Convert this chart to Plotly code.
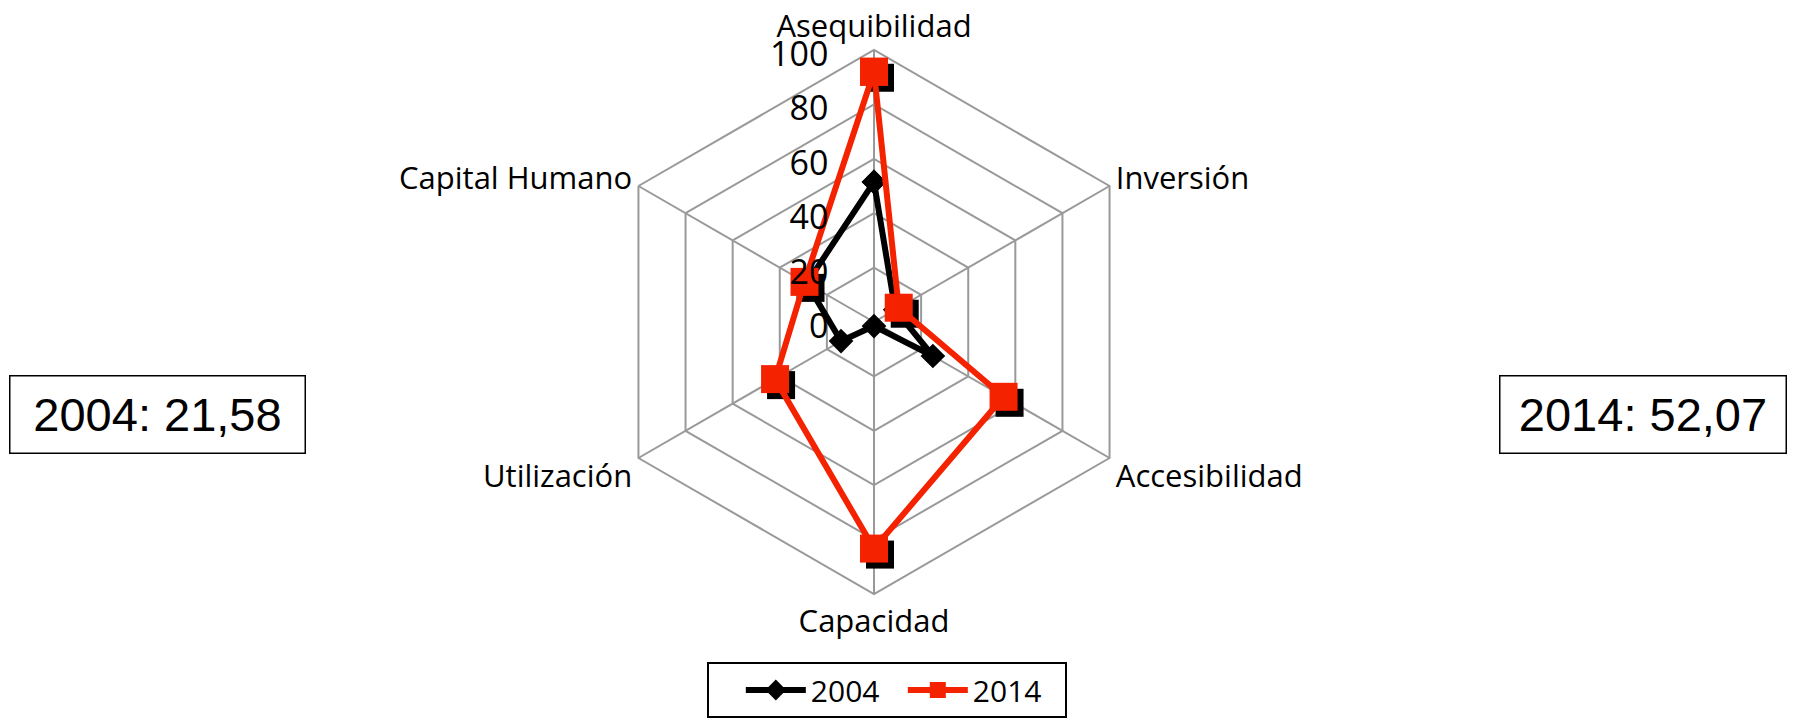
import plotly.graph_objects as go

# ejes del radar (sentido horario desde arriba)
categorias = ['Asequibilidad', 'Inversión', 'Accesibilidad', 'Capacidad', 'Utilización', 'Capital Humano']
valores_2004 = [51.5, 9, 25, 1.5, 14, 28.5]
valores_2014 = [92, 10.5, 55, 83.3, 42, 29.5]
ticks_radiales = [0, 20, 40, 60, 80, 100]
indices = ['2004: 21,58', '2014: 52,07']

W, H = 1797, 726
OFF = 8  # margen por defecto del <body>
cx, cy, r = 874 - OFF, 322 - OFF, 272
fuente = 'Open Sans'
gris = '#999999'
rojo = '#f52200'
nb = '\u00a0'

def cerrar(v):
    return list(v) + [v[0]]

cats = cerrar(categorias)

def dominio(dx=0, dy=0):
    x0 = (cx - r + dx) / W
    x1 = (cx + r + dx) / W
    yb = H - cy - dy
    return dict(x=[x0, x1], y=[(yb - r) / H, (yb + r) / H])

fig = go.Figure()

fig.add_trace(go.Scatterpolar(
    r=cerrar(valores_2004), theta=cats, name='2004', subplot='polar',
    mode='lines+markers',
    line=dict(color='black', width=6),
    marker=dict(symbol='diamond', size=19, color='black'),
))
# sombra de los marcadores de 2014
fig.add_trace(go.Scatterpolar(
    r=valores_2014, theta=categorias, subplot='polar2', mode='markers',
    marker=dict(symbol='square', size=28, color='black'),
    showlegend=False, hoverinfo='skip',
))
fig.add_trace(go.Scatterpolar(
    r=cerrar(valores_2014), theta=cats, name='2014', subplot='polar3',
    mode='lines+markers',
    line=dict(color=rojo, width=6),
    marker=dict(symbol='square', size=28, color=rojo),
))
# subplot solo para las etiquetas del eje radial (desplazadas a la izquierda)
fig.add_trace(go.Scatterpolar(
    r=[0], theta=categorias[:1], subplot='polar4', mode='markers',
    marker=dict(opacity=0), showlegend=False, hoverinfo='skip',
))

ang_oculto = dict(visible=False, rotation=90, direction='clockwise',
                  categoryorder='array', categoryarray=categorias)
rad_oculto = dict(visible=False, range=[0, 100])

fig.update_layout(
    width=W, height=H,
    margin=dict(l=0, r=0, t=0, b=0),
    paper_bgcolor='white',
    font=dict(family=fuente, color='black'),
    polar=dict(
        domain=dominio(),
        gridshape='linear',
        bgcolor='white',
        radialaxis=dict(range=[0, 100], tickvals=ticks_radiales, showticklabels=False,
                        angle=90, showline=False, ticks='',
                        gridcolor=gris, gridwidth=2),
        angularaxis=dict(rotation=90, direction='clockwise', categoryorder='array',
                         categoryarray=categorias, linecolor=gris, linewidth=2,
                         gridcolor=gris, gridwidth=2, ticks='',
                         tickfont=dict(size=31)),
    ),
    polar2=dict(domain=dominio(6, 6), gridshape='linear', bgcolor='rgba(0,0,0,0)',
                radialaxis=rad_oculto, angularaxis=ang_oculto),
    polar3=dict(domain=dominio(), gridshape='linear', bgcolor='rgba(0,0,0,0)',
                radialaxis=rad_oculto, angularaxis=ang_oculto),
    polar4=dict(domain=dominio(-40, 5), gridshape='linear', bgcolor='rgba(0,0,0,0)',
                radialaxis=dict(range=[0, 100], tickvals=ticks_radiales, angle=90,
                                tickangle=90, side='counterclockwise', showline=False,
                                showgrid=False, ticks='', tickfont=dict(size=34)),
                angularaxis=ang_oculto),
    legend=dict(orientation='h', x=(707 - OFF) / W, xanchor='left',
                y=(H - 662 + OFF) / H, yanchor='top',
                title=dict(text=nb * 3, side='left', font=dict(size=28)),
                bordercolor='black', borderwidth=2, bgcolor='white',
                font=dict(size=30), itemwidth=60, entrywidth=87),
)

cajas = [(9, 375, 296, 78), (1499, 375, 287, 78)]
for texto, (x0, y0, w, h) in zip(indices, cajas):
    fig.add_annotation(
        text=texto, xref='paper', yref='paper',
        x=(x0 - OFF) / W, y=(H - y0 + OFF) / H, xanchor='left', yanchor='top',
        showarrow=False, width=w - 4, height=h - 4, borderpad=1,
        bordercolor='black', borderwidth=1.5, bgcolor='white',
        font=dict(family='Liberation Sans', size=47, color='black'),
    )

fig.write_html('out.html')
